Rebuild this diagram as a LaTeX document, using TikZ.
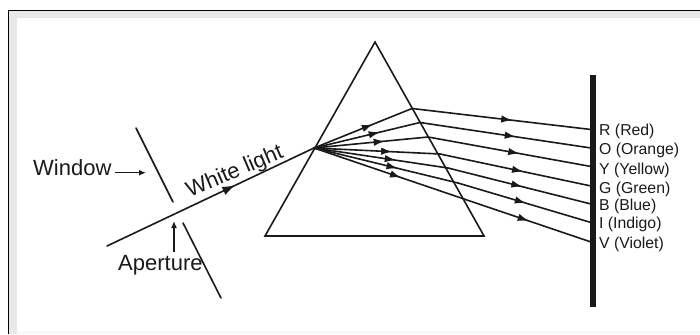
\documentclass[tikz,border=0pt]{standalone}
\usepackage{fontspec}
\setmainfont{Liberation Sans}
\usetikzlibrary{arrows.meta,decorations.markings}
\definecolor{ink}{HTML}{1A1A1A}
\definecolor{bevel}{HTML}{E8E8E8}
\definecolor{faint}{HTML}{F8F8F8}
\tikzset{x=1pt,y=-1pt,
 ray/.style={draw=ink,line width=1.6pt,line cap=round},
 tipmark/.style={postaction={decorate,decoration={markings,mark=at position #1 with {\arrow[ink]{Latex[length=11pt,width=7.5pt]}}}}},
 bigtip/.style={postaction={decorate,decoration={markings,mark=at position #1 with {\arrow[ink]{Latex[length=13pt,width=9pt]}}}}},
 pointer/.style={draw=ink,line width=1.5pt,-{Latex[length=7pt,width=6pt]}},
 lbl/.style={inner sep=0pt,text=ink,font=\fontsize{15.8}{18}\selectfont,anchor=west},
 biglbl/.style={inner sep=0pt,text=ink,font=\fontsize{22}{24}\selectfont},
}
\begin{document}
\begin{tikzpicture}
\useasboundingbox (0,0) rectangle (700,334);
\fill[white] (0,0) rectangle (700,334);
\fill[bevel] (9,11) rectangle (700,334);
\fill[white] (16.5,18) rectangle (700,334);
\fill[faint] (16.5,331) rectangle (700,334);
\draw[black,line width=1.2pt] (8.5,334) -- (8.5,10.5) -- (700,10.5);
% coordinates
\coordinate (apex) at (375,42);
\coordinate (bl) at (265,236);
\coordinate (br) at (484,236);
\coordinate (src) at (107,246);
\coordinate (in) at (314,148);
\coordinate (r1) at (412,108.5);
\coordinate (r2) at (420,122.5);
\coordinate (r3) at (428,137);
\coordinate (r4) at (440,154);
\coordinate (r5) at (448,168);
\coordinate (r6) at (458,183);
\coordinate (r7) at (464,199);
\coordinate (s1) at (591,129.5);
\coordinate (s2) at (591,148);
\coordinate (s3) at (591,166.5);
\coordinate (s4) at (591,186);
\coordinate (s5) at (591,204);
\coordinate (s6) at (591,222.5);
\coordinate (s7) at (591,242);
\coordinate (w1a) at (136,128);
\coordinate (w1b) at (173,202);
\coordinate (w2a) at (183,223);
\coordinate (w2b) at (221,298);
\coordinate (wa) at (115,172.7);
\coordinate (wb) at (146,172.7);
\coordinate (aa) at (174,252);
\coordinate (ab) at (174,221);
% prism
\draw[ray] (apex) -- (bl) -- (br) -- cycle;
% slit
\draw[ray] (w1a) -- (w1b);
\draw[ray] (w2a) -- (w2b);
% white light
\draw[ray,bigtip=0.62] (src) -- (in);
% rays
\foreach \r/\s/\i/\a in {r1/s1/0.60/0.56,r2/s2/0.62/0.56,r3/s3/0.62/0.56,r4/s4/0.62/0.55,r5/s5/0.61/0.52,r6/s6/0.58/0.51,r7/s7/0.58/0.51}{
 \draw[ray,tipmark=\i] (in) -- (\r);
 \draw[ray,tipmark=\a] (\r) -- (\s);
}
% screen
\fill[ink] (589.5,75.5) rectangle (596,306.5);
% pointers
\draw[pointer] (wa) -- (wb);
\draw[pointer] (aa) -- (ab);
% labels
\node[biglbl,anchor=west] (window) at (33,168) {Window};
\node[biglbl,anchor=west] (aperture) at (118,265) {Aperture};
\node[biglbl,rotate=23,anchor=center] (white) at (235,172) {White light};
\node[lbl] (R) at (599,131.7) {R (Red)};
\node[lbl] (O) at (599,150.7) {O (Orange)};
\node[lbl] (Y) at (599,170) {Y (Yellow)};
\node[lbl] (G) at (599,189) {G (Green)};
\node[lbl] (B) at (599,206.5) {B (Blue)};
\node[lbl] (I) at (599,224.5) {I (Indigo)};
\node[lbl] (V) at (599,244) {V (Violet)};
\end{tikzpicture}
\end{document}
